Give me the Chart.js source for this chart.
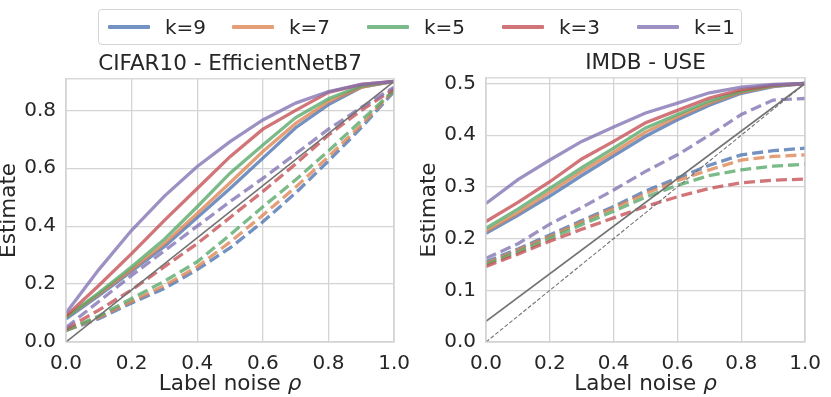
<!DOCTYPE html>
<html>
<head>
<meta charset="utf-8">
<script src="https://cdn.jsdelivr.net/npm/chart.js@4.4.1/dist/chart.umd.min.js"></script>
<style>
	body { margin: 0; background: #fff; }
	#wrap { position: relative; width: 831px; height: 397px; font-family: 'DejaVu Sans', sans-serif; color: #262626; }
	.panel { position: absolute; top: 0; }
	#legend { position: absolute; left: 98px; top: 9px; width: 642px; height: 34px; border: 1px solid #d5d5d5; border-radius: 4px; background: #fff; font-size: 20px; }
	#legend .item { position: absolute; top: 0; height: 34px; display: flex; align-items: center; }
	#legend .swatch { width: 42px; height: 4px; margin-right: 15px; border-radius: 1px; }
</style>
</head>
<body>
<div id="wrap">
	<div class="panel" style="left:0"><canvas id="cifar" width="420" height="397"></canvas></div>
	<div class="panel" style="left:420px"><canvas id="imdb" width="411" height="397"></canvas></div>
	<div id="legend"></div>
</div>
<script>
const noise = [0, 0.1, 0.2, 0.3, 0.4, 0.5, 0.6, 0.7, 0.8, 0.9, 1.0];
const kLabels = ['k=9', 'k=7', 'k=5', 'k=3', 'k=1'];
const kColors = ['rgba(76,114,176,0.78)', 'rgba(221,132,82,0.78)', 'rgba(85,168,104,0.78)', 'rgba(196,78,82,0.78)', 'rgba(129,114,179,0.78)'];
const xTicks = [0, 0.2, 0.4, 0.6, 0.8, 1.0];

// CIFAR10 - EfficientNetB7
const cifarSolid = [
	[0.08, 0.16, 0.245, 0.33, 0.43, 0.53, 0.635, 0.74, 0.82, 0.88, 0.9],
	[0.085, 0.165, 0.25, 0.34, 0.444, 0.55, 0.658, 0.755, 0.83, 0.88, 0.9],
	[0.085, 0.17, 0.26, 0.355, 0.467, 0.583, 0.68, 0.775, 0.84, 0.885, 0.9],
	[0.09, 0.195, 0.305, 0.42, 0.53, 0.64, 0.735, 0.80, 0.862, 0.89, 0.9],
	[0.1, 0.25, 0.386, 0.504, 0.606, 0.692, 0.767, 0.825, 0.865, 0.89, 0.9]
];
const cifarDashed = [
	[0.04, 0.08, 0.135, 0.185, 0.25, 0.325, 0.415, 0.515, 0.625, 0.74, 0.865],
	[0.04, 0.085, 0.14, 0.195, 0.26, 0.345, 0.438, 0.535, 0.64, 0.75, 0.87],
	[0.04, 0.09, 0.15, 0.21, 0.277, 0.37, 0.467, 0.56, 0.66, 0.765, 0.87],
	[0.045, 0.11, 0.18, 0.26, 0.34, 0.43, 0.52, 0.615, 0.715, 0.80, 0.875],
	[0.05, 0.14, 0.23, 0.315, 0.40, 0.485, 0.565, 0.65, 0.735, 0.81, 0.88]
];
const cifarRef = [0, 0.9];
const cifarYTicks = [0, 0.2, 0.4, 0.6, 0.8];
const cifarYMax = 0.909;

// IMDB - USE
const imdbSolid = [
	[0.21, 0.245, 0.282, 0.322, 0.36, 0.398, 0.43, 0.458, 0.481, 0.494, 0.5],
	[0.214, 0.25, 0.29, 0.33, 0.367, 0.406, 0.435, 0.462, 0.483, 0.495, 0.5],
	[0.22, 0.257, 0.297, 0.337, 0.375, 0.414, 0.44, 0.466, 0.485, 0.496, 0.5],
	[0.233, 0.27, 0.31, 0.354, 0.388, 0.424, 0.448, 0.472, 0.488, 0.497, 0.5],
	[0.268, 0.314, 0.352, 0.388, 0.416, 0.443, 0.462, 0.482, 0.493, 0.498, 0.5]
];
const imdbDashed = [
	[0.155, 0.18, 0.207, 0.235, 0.262, 0.292, 0.317, 0.342, 0.362, 0.37, 0.375],
	[0.152, 0.178, 0.204, 0.232, 0.259, 0.287, 0.312, 0.333, 0.352, 0.359, 0.362],
	[0.15, 0.174, 0.2, 0.227, 0.253, 0.28, 0.303, 0.322, 0.333, 0.34, 0.344],
	[0.146, 0.17, 0.195, 0.218, 0.24, 0.262, 0.281, 0.297, 0.308, 0.313, 0.315],
	[0.162, 0.19, 0.228, 0.26, 0.294, 0.33, 0.362, 0.40, 0.44, 0.468, 0.471]
];
const imdbRefSolid = [0.04, 0.5];
const imdbRefDashed = [0, 0.5];
const imdbYTicks = [0, 0.1, 0.2, 0.3, 0.4, 0.5];
const imdbYMax = 0.511;

const FONT = 'DejaVu Sans';
const TEXT = '#262626';
const GRID = '#d4d4d4';

const frame = {
	id: 'frame',
	afterDraw(chart) {
		const { ctx, chartArea: a } = chart;
		ctx.save();
		ctx.strokeStyle = GRID;
		ctx.lineWidth = 1.3;
		ctx.strokeRect(a.left, a.top, a.right - a.left, a.bottom - a.top);
		// x axis label, with an italic rho
		const plain = 'Label noise ', rho = 'ρ';
		ctx.fillStyle = TEXT;
		ctx.textBaseline = 'middle';
		ctx.textAlign = 'left';
		ctx.font = `21.5px "${FONT}"`;
		const w1 = ctx.measureText(plain).width;
		ctx.font = `italic 21.5px "${FONT}"`;
		const w2 = ctx.measureText(rho).width;
		const x0 = (a.left + a.right) / 2 - (w1 + w2) / 2;
		ctx.font = `21.5px "${FONT}"`;
		ctx.fillText(plain, x0, 384);
		ctx.font = `italic 21.5px "${FONT}"`;
		ctx.fillText(rho, x0 + w1, 384);
		ctx.restore();
	}
};

function pts(ys) { return ys.map((y, i) => ({ x: noise[i], y })); }
function ref(ends, dash, width) {
	return { data: [{ x: 0, y: ends[0] }, { x: 1, y: ends[1] }], borderColor: '#737373', borderWidth: width, borderDash: dash, pointRadius: 0 };
}

function buildChart(id, title, solid, dashed, refs, yTicks, yMax, padRight, padTop) {
	const sets = [];
	solid.forEach((ys, k) => sets.push({ data: pts(ys), borderColor: kColors[k], borderWidth: 3.3, pointRadius: 0 }));
	dashed.forEach((ys, k) => sets.push({ data: pts(ys), borderColor: kColors[k], borderWidth: 3.3, borderDash: [11, 5], pointRadius: 0 }));
	refs.forEach(r => sets.push(r));
	return new Chart(document.getElementById(id), {
		type: 'line',
		data: { datasets: sets.reverse() },
		plugins: [frame],
		options: {
			responsive: false, animation: false, devicePixelRatio: 1,
			layout: { padding: { top: padTop, left: 0, right: padRight, bottom: 0 } },
			plugins: {
				legend: { display: false }, tooltip: { enabled: false },
				title: { display: true, fullSize: false, text: title, color: TEXT, font: { family: FONT, size: 21.5, weight: 'normal' }, padding: { top: 12, bottom: 1 } }
			},
			scales: {
				x: {
					type: 'linear', min: 0, max: 1,
					afterFit: s => { s.height = 55; },
					afterBuildTicks: s => { s.ticks = xTicks.map(v => ({ value: v })); },
					grid: { color: GRID, lineWidth: 1.3, drawTicks: false },
					border: { color: GRID, width: 1.3 },
					ticks: { color: TEXT, font: { family: FONT, size: 20 }, padding: 10, maxRotation: 0, callback: v => v.toFixed(1) }
				},
				y: {
					min: 0, max: yMax,
					afterFit: s => { s.width = 66; },
					afterBuildTicks: s => { s.ticks = yTicks.map(v => ({ value: v })); },
					grid: { color: GRID, lineWidth: 1.3, drawTicks: false },
					border: { color: GRID, width: 1.3 },
					ticks: { color: TEXT, font: { family: FONT, size: 20 }, padding: 10, callback: v => v.toFixed(1) },
					title: { display: true, text: 'Estimate', color: TEXT, font: { family: FONT, size: 21.5, lineHeight: 0.9 }, padding: 0 }
				}
			}
		}
	});
}

buildChart('cifar', 'CIFAR10 - EfficientNetB7', cifarSolid, cifarDashed, [ref(cifarRef, [], 1.6)], cifarYTicks, cifarYMax, 24, 40);
buildChart('imdb', 'IMDB - USE', imdbSolid, imdbDashed, [ref(imdbRefSolid, [], 1.6), ref(imdbRefDashed, [4, 2], 1.1)], imdbYTicks, imdbYMax, 15, 39);

// legend entries, left offsets inside the box
const legendLeft = [9, 133, 268, 403, 538];
document.getElementById('legend').innerHTML = kLabels.map((l, k) =>
	`<div class="item" style="left:${legendLeft[k]}px"><span class="swatch" style="background:${kColors[k]}"></span><span>${l}</span></div>`).join('');
</script>
</body>
</html>
